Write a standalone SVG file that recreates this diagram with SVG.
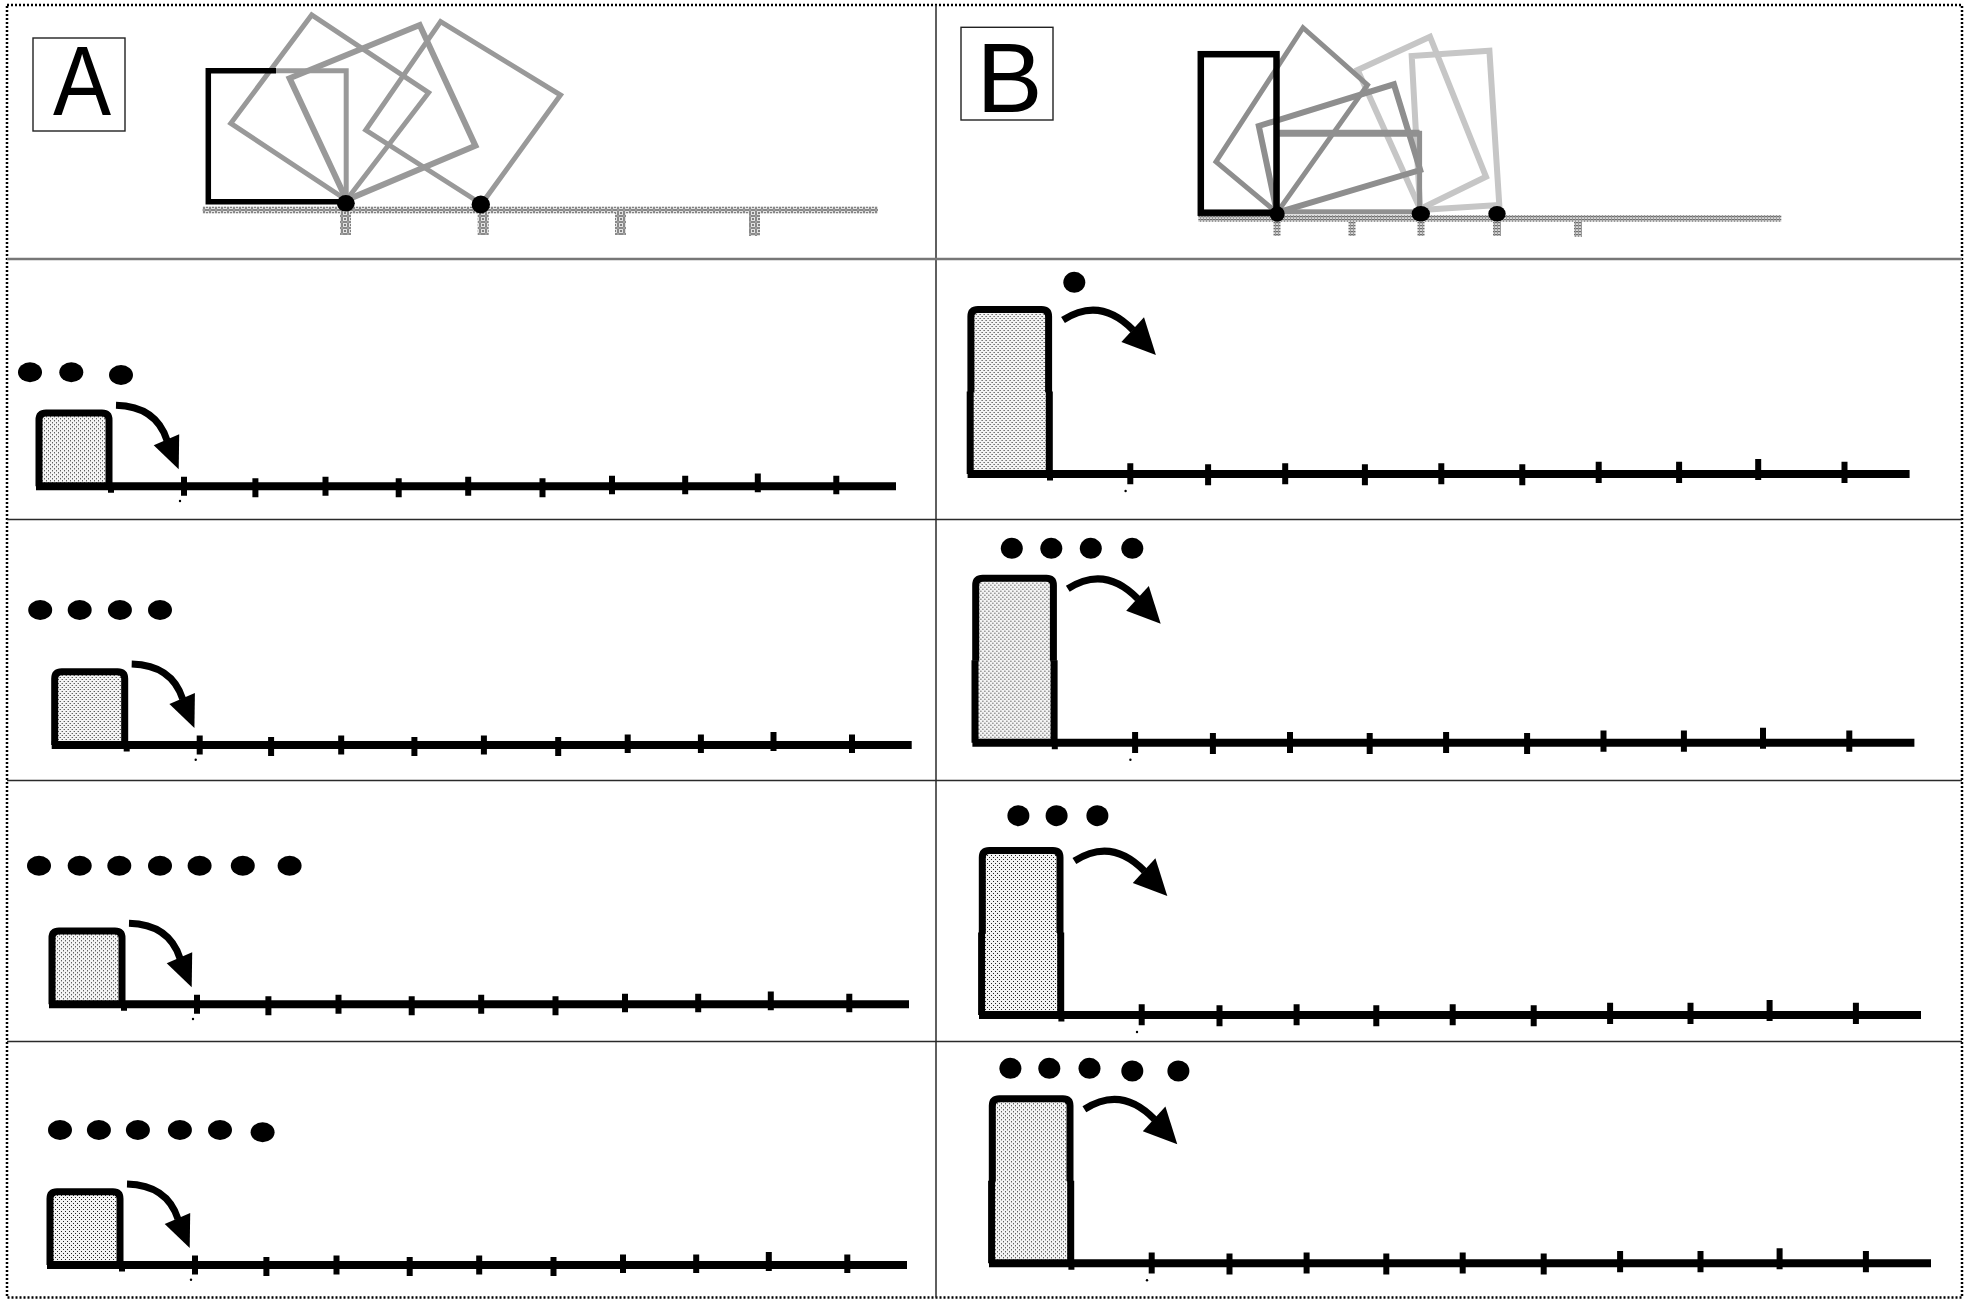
<svg xmlns="http://www.w3.org/2000/svg" xmlns:xlink="http://www.w3.org/1999/xlink" width="1969" height="1301" viewBox="0 0 1969 1301">
<style>
.grid{stroke:#2a2a2a;stroke-width:1.5;fill:none}
.border{fill:none;stroke:#000;stroke-width:2.5;stroke-dasharray:2 2}
.lbox{fill:#fff;stroke:#222;stroke-width:1.4}
.letter{font-family:"Liberation Sans",Arial,sans-serif;font-size:99px;fill:#000;text-anchor:middle}
.box{fill:none;stroke:#000;stroke-width:7;stroke-linejoin:round}
.side{fill:none;stroke:#000;stroke-width:7;stroke-linecap:butt}
.base{stroke:#000;stroke-width:8}
.tk{stroke:#000;stroke-width:6;fill:none}
.shaft{fill:none;stroke:#000;stroke-width:7}
.blk{fill:#000}
.g1{fill:none;stroke:#999;stroke-width:5;stroke-linejoin:miter}
.g2{fill:none;stroke:#8e8e8e;stroke-width:6}
.g3{fill:none;stroke:#c6c6c6;stroke-width:6}
.rk{fill:none;stroke:#000;stroke-width:5.5}
</style>
<defs>
<pattern id="stip" width="4" height="4" patternUnits="userSpaceOnUse">
<rect width="4" height="4" fill="#f4f4f4"/><rect x="0" y="0" width="1" height="1" fill="#222"/><rect x="2" y="2" width="1" height="1" fill="#222"/>
</pattern>
<pattern id="hatchA" width="6" height="6" patternUnits="userSpaceOnUse">
<rect width="6" height="6" fill="#e2e2e2"/><path d="M0.5,0.5h5v5h-5z" fill="none" stroke="#8a8a8a" stroke-width="1"/><path d="M2,2l2,2m0,-2l-2,2" stroke="#666" stroke-width="0.8"/>
</pattern>
<pattern id="hatchB" width="3" height="3" patternUnits="userSpaceOnUse">
<rect width="3" height="3" fill="#d8d8d8"/><rect width="3" height="1.2" fill="#6e6e6e"/><rect width="1" height="3" fill="#9a9a9a"/>
</pattern>
<g id="rowL">
<rect x="3" y="-73.3" width="70" height="73.3" fill="url(#stip)"/>
<path class="box" d="M3,0 V-66.3 Q3,-73.3 10,-73.3 H66 Q73,-73.3 73,-66.3 V0"/>
<line class="base" x1="0" y1="0" x2="860" y2="0"/>
<path class="tk" d="M75,0 V6.5 M148,-9.6 V9.4 M219.4,-8 V11 M289.5,-9.6 V9.4 M362.7,-8 V11 M432.2,-9.6 V9.4 M506.5,-8 V11 M576,-10.6 V8 M649.2,-10.6 V8 M721.8,-12.9 V6 M800.3,-10.6 V8"/>
<path class="shaft" d="M80,-81 Q120,-80 131,-46"/>
<polygon class="blk" points="117.7,-41 143.2,-52 142.7,-17"/>
<circle class="blk" cx="144" cy="14.7" r="1.2"/>
</g>
<g id="rowR">
<rect x="3.3" y="-164.5" width="77.7" height="164.5" fill="url(#stip)"/>
<path class="box" d="M3.3,-82 V-157.5 Q3.3,-164.5 10.3,-164.5 H74 Q81,-164.5 81,-157.5 V-82"/>
<path class="side" d="M2.6,-82.5 V0 M81.7,-82.5 V0"/>
<line class="base" x1="0" y1="0" x2="942" y2="0"/>
<path class="tk" d="M82.4,0 V6.5 M162.7,-10.7 V10.3 M240.5,-9.7 V11.3 M317.6,-10.7 V10.3 M397.3,-9.7 V11.3 M473.7,-10.7 V10.3 M554.7,-9.7 V11.3 M631.1,-12.3 V9 M711.5,-12.3 V9 M790.6,-15 V6 M876.9,-12.3 V9"/>
<path class="shaft" d="M95.4,-154 Q132.4,-178 165.4,-144"/>
<polygon class="blk" points="153.8,-132 176.4,-156.7 188.3,-119"/>
<circle class="blk" cx="158" cy="17" r="1.2"/>
</g>
</defs>

<rect x="0" y="0" width="1969" height="1301" fill="#fff"/>

<g id="frame">
<rect class="border" x="7" y="5" width="1955" height="1292.5"/>
<line class="grid" x1="936" y1="5" x2="936" y2="1297.5"/>
<line class="grid" x1="7" y1="259" x2="1962" y2="259" style="stroke:#777;stroke-width:2.5"/>
<line class="grid" x1="7" y1="519.5" x2="1962" y2="519.5"/>
<line class="grid" x1="7" y1="780.5" x2="1962" y2="780.5"/>
<line class="grid" x1="7" y1="1041.5" x2="1962" y2="1041.5"/>
</g>

<g id="panel-A">
<rect class="lbox" x="33" y="38" width="92" height="93"/>
<text class="letter" transform="translate(82,115) scale(0.88,1)">A</text>
<rect x="202.6" y="206.7" width="675.4" height="6.6" fill="url(#hatchA)"/>
<rect x="340" y="213" width="11" height="22" fill="url(#hatchA)"/>
<rect x="477.7" y="213" width="11" height="22" fill="url(#hatchA)"/>
<rect x="615" y="213" width="11" height="22" fill="url(#hatchA)"/>
<rect x="749" y="213" width="11" height="23" fill="url(#hatchA)"/>
<polygon class="g1" points="346.5,200 230.8,123.3 311.7,15 428.6,92.7"/>
<polygon class="g1" points="346.5,200 289.6,78.3 419.7,25 475.4,145.7" style="stroke-width:6"/>
<polygon class="g1" points="481.5,204 365.7,130 440.6,21.7 560.5,95"/>
<polyline class="rk" points="276,70.8 208.3,70.8 208.3,201.7 346,201.7"/>
<polyline class="g1" points="276,70.8 346.2,70.8 346.2,198"/>
<ellipse class="blk" cx="345.8" cy="203.3" rx="9" ry="8.3"/>
<ellipse class="blk" cx="480.8" cy="204.5" rx="9.2" ry="9"/>
</g>

<g id="panel-B">
<rect class="lbox" x="961" y="27.3" width="92" height="92.7"/>
<text class="letter" transform="translate(1009.5,111.7)">B</text>
<rect x="1198.3" y="215" width="583" height="7" fill="url(#hatchB)"/>
<rect x="1273.5" y="222" width="7" height="14" fill="url(#hatchB)"/>
<rect x="1348.5" y="222" width="7" height="14" fill="url(#hatchB)"/>
<rect x="1417.5" y="222" width="7" height="14" fill="url(#hatchB)"/>
<rect x="1493" y="222" width="8" height="14" fill="url(#hatchB)"/>
<rect x="1574" y="222" width="8" height="15" fill="url(#hatchB)"/>
<polygon class="g3" points="1420.2,209 1357.6,70 1430,36.7 1486,176.7"/>
<polygon class="g3" points="1420.2,210 1411.7,56 1489.4,50.7 1499.3,205"/>
<polygon class="g1" points="1277,212.7 1216,161.7 1303,27.7 1367.5,85" style="stroke:#8e8e8e"/>
<polygon class="g2" points="1277,212.7 1258.8,126 1393.9,84.3 1420.2,170"/>
<rect x="1277" y="133.3" width="142.6" height="78.5" fill="none" stroke="#909090" stroke-width="5"/>
<line x1="1277" y1="133.3" x2="1419.6" y2="133.3" stroke="#909090" stroke-width="7"/>
<rect class="rk" x="1200.8" y="54.2" width="75.7" height="158.5" style="stroke-width:6.5"/>
<ellipse class="blk" cx="1277.2" cy="214" rx="7.5" ry="7.8"/>
<ellipse class="blk" cx="1420.8" cy="213.8" rx="9.2" ry="7.8"/>
<ellipse class="blk" cx="1497" cy="213.8" rx="8.7" ry="7.8"/>
</g>

<g id="panel-A1">
<use xlink:href="#rowL" href="#rowL" transform="translate(36,486.3)"/>
<ellipse class="blk" cx="30" cy="372.3" rx="12" ry="10"/>
<ellipse class="blk" cx="71.3" cy="372.3" rx="12" ry="10"/>
<ellipse class="blk" cx="121" cy="375" rx="12" ry="10"/>
</g>
<g id="panel-A2">
<use xlink:href="#rowL" href="#rowL" transform="translate(51.7,745)"/>
<ellipse class="blk" cx="40.2" cy="610" rx="12" ry="10"/>
<ellipse class="blk" cx="79.7" cy="610" rx="12" ry="10"/>
<ellipse class="blk" cx="119.9" cy="610" rx="12" ry="10"/>
<ellipse class="blk" cx="160" cy="610" rx="12" ry="10"/>
</g>
<g id="panel-A3">
<use xlink:href="#rowL" href="#rowL" transform="translate(49,1004.3)"/>
<ellipse class="blk" cx="39" cy="865.7" rx="12" ry="10"/>
<ellipse class="blk" cx="79.7" cy="865.7" rx="12" ry="10"/>
<ellipse class="blk" cx="119.3" cy="865.7" rx="12" ry="10"/>
<ellipse class="blk" cx="160" cy="865.7" rx="12" ry="10"/>
<ellipse class="blk" cx="199.6" cy="865.7" rx="12" ry="10"/>
<ellipse class="blk" cx="242.8" cy="865.7" rx="12" ry="10"/>
<ellipse class="blk" cx="289.6" cy="865.7" rx="12" ry="10"/>
</g>
<g id="panel-A4">
<use xlink:href="#rowL" href="#rowL" transform="translate(47,1265)"/>
<ellipse class="blk" cx="60" cy="1130" rx="12" ry="10"/>
<ellipse class="blk" cx="98.9" cy="1130" rx="12" ry="10"/>
<ellipse class="blk" cx="137.9" cy="1130" rx="12" ry="10"/>
<ellipse class="blk" cx="179.9" cy="1130" rx="12" ry="10"/>
<ellipse class="blk" cx="220" cy="1130" rx="12" ry="10"/>
<ellipse class="blk" cx="262.6" cy="1132.3" rx="12" ry="10"/>
</g>

<g id="panel-B1">
<use xlink:href="#rowR" href="#rowR" transform="translate(967.6,474)"/>
<ellipse class="blk" cx="1074.3" cy="282.3" rx="11" ry="10.5"/>
</g>
<g id="panel-B2">
<use xlink:href="#rowR" href="#rowR" transform="translate(972.4,742.7)"/>
<ellipse class="blk" cx="1011.8" cy="548.3" rx="11" ry="10.5"/>
<ellipse class="blk" cx="1051.3" cy="548.3" rx="11" ry="10.5"/>
<ellipse class="blk" cx="1090.8" cy="548.3" rx="11" ry="10.5"/>
<ellipse class="blk" cx="1132.3" cy="548.3" rx="11" ry="10.5"/>
</g>
<g id="panel-B3">
<use xlink:href="#rowR" href="#rowR" transform="translate(979,1015)"/>
<ellipse class="blk" cx="1018.4" cy="815.7" rx="11" ry="10.5"/>
<ellipse class="blk" cx="1056.6" cy="815.7" rx="11" ry="10.5"/>
<ellipse class="blk" cx="1097.4" cy="815.7" rx="11" ry="10.5"/>
</g>
<g id="panel-B4">
<use xlink:href="#rowR" href="#rowR" transform="translate(989,1263.3)"/>
<ellipse class="blk" cx="1010.4" cy="1068.3" rx="11" ry="10.5"/>
<ellipse class="blk" cx="1049.3" cy="1068.3" rx="11" ry="10.5"/>
<ellipse class="blk" cx="1089.5" cy="1068.3" rx="11" ry="10.5"/>
<ellipse class="blk" cx="1132.3" cy="1071" rx="11" ry="10.5"/>
<ellipse class="blk" cx="1178.4" cy="1071" rx="11" ry="10.5"/>
</g>
</svg>
